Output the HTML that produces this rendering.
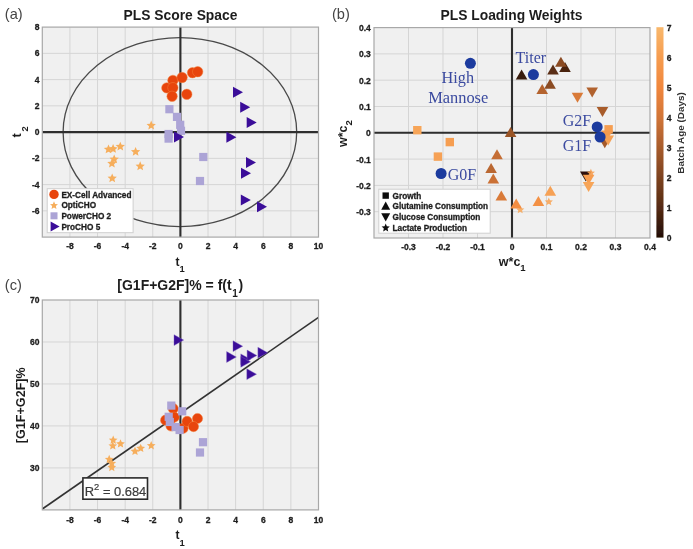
<!DOCTYPE html>
<html lang="en"><head><meta charset="utf-8"><title>PLS figure</title>
<style>html,body{margin:0;padding:0;background:#fff;}svg{display:block;}</style>
</head><body>
<svg width="693" height="549" viewBox="0 0 693 549">
<defs><filter id="soft" x="-2%" y="-2%" width="104%" height="104%"><feGaussianBlur stdDeviation="0.55"/></filter>
<linearGradient id="cop" x1="0" y1="1" x2="0" y2="0">
<stop offset="0" stop-color="#220d05"/>
<stop offset="0.14" stop-color="#552b13"/>
<stop offset="0.29" stop-color="#7e4320"/>
<stop offset="0.43" stop-color="#a85c2c"/>
<stop offset="0.57" stop-color="#d17538"/>
<stop offset="0.71" stop-color="#f0863c"/>
<stop offset="0.86" stop-color="#f69d50"/>
<stop offset="1" stop-color="#f9b86c"/>
</linearGradient></defs>
<rect width="693" height="549" fill="#fff"/>
<g filter="url(#soft)">
<g id="panel-a">
<rect x="42.3" y="27.1" width="276.2" height="210" fill="#f0f0f0"/><path d="M69.92 27.1V237.1M97.54 27.1V237.1M125.16 27.1V237.1M152.78 27.1V237.1M180.4 27.1V237.1M208.02 27.1V237.1M235.64 27.1V237.1M263.26 27.1V237.1M290.88 27.1V237.1M42.3 210.85H318.5M42.3 184.6H318.5M42.3 158.35H318.5M42.3 132.1H318.5M42.3 105.85H318.5M42.3 79.6H318.5M42.3 53.35H318.5" stroke="#d5d5d5" stroke-width="1" fill="none"/>
<ellipse cx="179.9" cy="132.1" rx="116.8" ry="94.5" fill="none" stroke="#4a4a4a" stroke-width="1.3"/>
<path d="M42.3 132.1H318.5M180.4 27.1V237.1" stroke="#2e2e2e" stroke-width="2.1" fill="none"/>
<rect x="42.3" y="27.1" width="276.2" height="210" fill="none" stroke="#a8a8a8" stroke-width="1.2"/>
<circle cx="172.9" cy="80.4" r="5.2" fill="#e8450c" stroke="#f2803c" stroke-width="0.5"/>
<circle cx="166.8" cy="87.9" r="5.2" fill="#e8450c" stroke="#f2803c" stroke-width="0.5"/>
<circle cx="172.9" cy="87.7" r="5.2" fill="#e8450c" stroke="#f2803c" stroke-width="0.5"/>
<circle cx="172.1" cy="96.3" r="5.2" fill="#e8450c" stroke="#f2803c" stroke-width="0.5"/>
<circle cx="182.1" cy="77.5" r="5.2" fill="#e8450c" stroke="#f2803c" stroke-width="0.5"/>
<circle cx="186.8" cy="94.3" r="5.2" fill="#e8450c" stroke="#f2803c" stroke-width="0.5"/>
<circle cx="192.5" cy="72.7" r="5.2" fill="#e8450c" stroke="#f2803c" stroke-width="0.5"/>
<circle cx="197.7" cy="71.7" r="5.2" fill="#e8450c" stroke="#f2803c" stroke-width="0.5"/>
<polygon points="151.2,120.6 152.52,123.68 155.86,123.99 153.34,126.2 154.08,129.46 151.2,127.75 148.32,129.46 149.06,126.2 146.54,123.99 149.88,123.68" fill="#f6ae5c"/>
<polygon points="108.5,144.5 109.82,147.58 113.16,147.89 110.64,150.1 111.38,153.36 108.5,151.65 105.62,153.36 106.36,150.1 103.84,147.89 107.18,147.58" fill="#f6ae5c"/>
<polygon points="113.1,144 114.42,147.08 117.76,147.39 115.24,149.6 115.98,152.86 113.1,151.15 110.22,152.86 110.96,149.6 108.44,147.39 111.78,147.08" fill="#f6ae5c"/>
<polygon points="120.3,141.7 121.62,144.78 124.96,145.09 122.44,147.3 123.18,150.56 120.3,148.85 117.42,150.56 118.16,147.3 115.64,145.09 118.98,144.78" fill="#f6ae5c"/>
<polygon points="135.6,146.9 136.92,149.98 140.26,150.29 137.74,152.5 138.48,155.76 135.6,154.05 132.72,155.76 133.46,152.5 130.94,150.29 134.28,149.98" fill="#f6ae5c"/>
<polygon points="114.2,154.4 115.52,157.48 118.86,157.79 116.34,160 117.08,163.26 114.2,161.55 111.32,163.26 112.06,160 109.54,157.79 112.88,157.48" fill="#f6ae5c"/>
<polygon points="111.9,158.7 113.22,161.78 116.56,162.09 114.04,164.3 114.78,167.56 111.9,165.85 109.02,167.56 109.76,164.3 107.24,162.09 110.58,161.78" fill="#f6ae5c"/>
<polygon points="140.2,161.3 141.52,164.38 144.86,164.69 142.34,166.9 143.08,170.16 140.2,168.45 137.32,170.16 138.06,166.9 135.54,164.69 138.88,164.38" fill="#f6ae5c"/>
<polygon points="112.2,173.4 113.52,176.48 116.86,176.79 114.34,179 115.08,182.26 112.2,180.55 109.32,182.26 110.06,179 107.54,176.79 110.88,176.48" fill="#f6ae5c"/>
<rect x="165.3" y="105.1" width="8.2" height="8.2" fill="#aca4d6"/>
<rect x="172.9" y="112.8" width="8.2" height="8.2" fill="#aca4d6"/>
<rect x="176.1" y="120.7" width="8.2" height="8.2" fill="#aca4d6"/>
<rect x="176.9" y="126.7" width="8.2" height="8.2" fill="#aca4d6"/>
<rect x="164.5" y="129.9" width="8.2" height="8.2" fill="#aca4d6"/>
<rect x="164.5" y="134.5" width="8.2" height="8.2" fill="#aca4d6"/>
<rect x="199.2" y="152.9" width="8.2" height="8.2" fill="#aca4d6"/>
<rect x="195.9" y="176.9" width="8.2" height="8.2" fill="#aca4d6"/>
<polygon points="233,86.8 243,92.3 233,97.8" fill="#3b0f99"/>
<polygon points="240.2,101.7 250.2,107.2 240.2,112.7" fill="#3b0f99"/>
<polygon points="246.7,117.1 256.7,122.6 246.7,128.1" fill="#3b0f99"/>
<polygon points="226.4,131.7 236.4,137.2 226.4,142.7" fill="#3b0f99"/>
<polygon points="246,157 256,162.5 246,168" fill="#3b0f99"/>
<polygon points="241,167.8 251,173.3 241,178.8" fill="#3b0f99"/>
<polygon points="240.8,194.5 250.8,200 240.8,205.5" fill="#3b0f99"/>
<polygon points="257,201.3 267,206.8 257,212.3" fill="#3b0f99"/>
<polygon points="174,131.5 184,137 174,142.5" fill="#3b0f99"/>
<rect x="47.2" y="188.7" width="85.9" height="44" fill="#fff" stroke="#cfcfcf" stroke-width="1"/>
<circle cx="54" cy="194.4" r="4.7" fill="#e8450c"/>
<polygon points="54,201.3 55.14,203.94 57.99,204.2 55.84,206.1 56.47,208.9 54,207.43 51.53,208.9 52.16,206.1 50.01,204.2 52.86,203.94" fill="#f6ae5c"/>
<rect x="50.5" y="212.3" width="7" height="7" fill="#aca4d6"/>
<polygon points="50.6,221.4 59.6,226.4 50.6,231.4" fill="#3b0f99"/>
<text x="61.4" y="197.5" font-family='"Liberation Sans", Arial, Helvetica, sans-serif' font-size="8.22" font-weight="bold" text-anchor="start" fill="#1e1e1e" stroke="#1e1e1e" stroke-width="0.3">EX-Cell Advanced</text>
<text x="61.4" y="208.2" font-family='"Liberation Sans", Arial, Helvetica, sans-serif' font-size="8.22" font-weight="bold" text-anchor="start" fill="#1e1e1e" stroke="#1e1e1e" stroke-width="0.3">OptiCHO</text>
<text x="61.4" y="218.9" font-family='"Liberation Sans", Arial, Helvetica, sans-serif' font-size="8.22" font-weight="bold" text-anchor="start" fill="#1e1e1e" stroke="#1e1e1e" stroke-width="0.3">PowerCHO 2</text>
<text x="61.4" y="229.6" font-family='"Liberation Sans", Arial, Helvetica, sans-serif' font-size="8.22" font-weight="bold" text-anchor="start" fill="#1e1e1e" stroke="#1e1e1e" stroke-width="0.3">ProCHO 5</text>
<text x="69.92" y="249.3" font-family='"Liberation Sans", Arial, Helvetica, sans-serif' font-size="8.5" font-weight="bold" text-anchor="middle" fill="#1e1e1e" stroke="#1e1e1e" stroke-width="0.3">-8</text>
<text x="97.54" y="249.3" font-family='"Liberation Sans", Arial, Helvetica, sans-serif' font-size="8.5" font-weight="bold" text-anchor="middle" fill="#1e1e1e" stroke="#1e1e1e" stroke-width="0.3">-6</text>
<text x="125.16" y="249.3" font-family='"Liberation Sans", Arial, Helvetica, sans-serif' font-size="8.5" font-weight="bold" text-anchor="middle" fill="#1e1e1e" stroke="#1e1e1e" stroke-width="0.3">-4</text>
<text x="152.78" y="249.3" font-family='"Liberation Sans", Arial, Helvetica, sans-serif' font-size="8.5" font-weight="bold" text-anchor="middle" fill="#1e1e1e" stroke="#1e1e1e" stroke-width="0.3">-2</text>
<text x="180.4" y="249.3" font-family='"Liberation Sans", Arial, Helvetica, sans-serif' font-size="8.5" font-weight="bold" text-anchor="middle" fill="#1e1e1e" stroke="#1e1e1e" stroke-width="0.3">0</text>
<text x="208.02" y="249.3" font-family='"Liberation Sans", Arial, Helvetica, sans-serif' font-size="8.5" font-weight="bold" text-anchor="middle" fill="#1e1e1e" stroke="#1e1e1e" stroke-width="0.3">2</text>
<text x="235.64" y="249.3" font-family='"Liberation Sans", Arial, Helvetica, sans-serif' font-size="8.5" font-weight="bold" text-anchor="middle" fill="#1e1e1e" stroke="#1e1e1e" stroke-width="0.3">4</text>
<text x="263.26" y="249.3" font-family='"Liberation Sans", Arial, Helvetica, sans-serif' font-size="8.5" font-weight="bold" text-anchor="middle" fill="#1e1e1e" stroke="#1e1e1e" stroke-width="0.3">6</text>
<text x="290.88" y="249.3" font-family='"Liberation Sans", Arial, Helvetica, sans-serif' font-size="8.5" font-weight="bold" text-anchor="middle" fill="#1e1e1e" stroke="#1e1e1e" stroke-width="0.3">8</text>
<text x="318.5" y="249.3" font-family='"Liberation Sans", Arial, Helvetica, sans-serif' font-size="8.5" font-weight="bold" text-anchor="middle" fill="#1e1e1e" stroke="#1e1e1e" stroke-width="0.3">10</text>
<text x="39.6" y="213.85" font-family='"Liberation Sans", Arial, Helvetica, sans-serif' font-size="8.5" font-weight="bold" text-anchor="end" fill="#1e1e1e" stroke="#1e1e1e" stroke-width="0.3">-6</text>
<text x="39.6" y="187.6" font-family='"Liberation Sans", Arial, Helvetica, sans-serif' font-size="8.5" font-weight="bold" text-anchor="end" fill="#1e1e1e" stroke="#1e1e1e" stroke-width="0.3">-4</text>
<text x="39.6" y="161.35" font-family='"Liberation Sans", Arial, Helvetica, sans-serif' font-size="8.5" font-weight="bold" text-anchor="end" fill="#1e1e1e" stroke="#1e1e1e" stroke-width="0.3">-2</text>
<text x="39.6" y="135.1" font-family='"Liberation Sans", Arial, Helvetica, sans-serif' font-size="8.5" font-weight="bold" text-anchor="end" fill="#1e1e1e" stroke="#1e1e1e" stroke-width="0.3">0</text>
<text x="39.6" y="108.85" font-family='"Liberation Sans", Arial, Helvetica, sans-serif' font-size="8.5" font-weight="bold" text-anchor="end" fill="#1e1e1e" stroke="#1e1e1e" stroke-width="0.3">2</text>
<text x="39.6" y="82.6" font-family='"Liberation Sans", Arial, Helvetica, sans-serif' font-size="8.5" font-weight="bold" text-anchor="end" fill="#1e1e1e" stroke="#1e1e1e" stroke-width="0.3">4</text>
<text x="39.6" y="56.35" font-family='"Liberation Sans", Arial, Helvetica, sans-serif' font-size="8.5" font-weight="bold" text-anchor="end" fill="#1e1e1e" stroke="#1e1e1e" stroke-width="0.3">6</text>
<text x="39.6" y="30.1" font-family='"Liberation Sans", Arial, Helvetica, sans-serif' font-size="8.5" font-weight="bold" text-anchor="end" fill="#1e1e1e" stroke="#1e1e1e" stroke-width="0.3">8</text>
<text x="180.5" y="20.2" font-family='"Liberation Sans", Arial, Helvetica, sans-serif' font-size="13.85" font-weight="bold" text-anchor="middle" fill="#1e1e1e">PLS Score Space</text>
<text x="4.8" y="18.5" font-family='"Liberation Sans", Arial, Helvetica, sans-serif' font-size="14.6" font-weight="normal" text-anchor="start" fill="#444">(a)</text>
<text x="175.6" y="265.6" font-family='"Liberation Sans", Arial, Helvetica, sans-serif' font-size="12" font-weight="bold" fill="#1e1e1e">t<tspan font-size="9.4" dy="6.6">1</tspan></text>
<text transform="translate(21.2,137.6) rotate(-90)" font-family='"Liberation Sans", Arial, Helvetica, sans-serif' font-size="12.5" font-weight="bold" fill="#1e1e1e">t<tspan font-size="9.4" dx="2" dy="6.6">2</tspan></text>
</g>
<g id="panel-b">
<rect x="374" y="27.6" width="276" height="210.4" fill="#f0f0f0"/><path d="M408.5 27.6V238M443 27.6V238M477.5 27.6V238M512 27.6V238M546.5 27.6V238M581 27.6V238M615.5 27.6V238M374 211.7H650M374 185.4H650M374 159.1H650M374 132.8H650M374 106.5H650M374 80.2H650M374 53.9H650" stroke="#d5d5d5" stroke-width="1" fill="none"/>
<path d="M374 132.8H650M512 27.6V238" stroke="#2e2e2e" stroke-width="2.1" fill="none"/>
<rect x="374" y="27.6" width="276" height="210.4" fill="none" stroke="#a8a8a8" stroke-width="1.2"/>
<polygon points="580,171.6 591.6,171.6 585.8,181.6" fill="#291107"/>
<rect x="413.1" y="126" width="8.4" height="8.4" fill="#f7a558"/>
<rect x="445.6" y="137.9" width="8.4" height="8.4" fill="#f69e51"/>
<rect x="433.7" y="152.4" width="8.4" height="8.4" fill="#f6a154"/>
<rect x="604.4" y="125.1" width="8.4" height="8.4" fill="#f69e51"/>
<polygon points="520.2,205.5 521.36,208.2 524.29,208.47 522.08,210.41 522.73,213.28 520.2,211.78 517.67,213.28 518.32,210.41 516.11,208.47 519.04,208.2" fill="#f7a95c" opacity="0.9"/>
<polygon points="548.8,197.5 549.96,200.2 552.89,200.47 550.68,202.41 551.33,205.28 548.8,203.78 546.27,205.28 546.92,202.41 544.71,200.47 547.64,200.2" fill="#f7a558" opacity="0.9"/>
<polygon points="590.9,168.7 592.06,171.4 594.99,171.67 592.78,173.61 593.43,176.48 590.9,174.98 588.37,176.48 589.02,173.61 586.81,171.67 589.74,171.4" fill="#f69e51" opacity="0.9"/>
<polygon points="559.2,72 565,62 570.8,72" fill="#492410"/>
<polygon points="515.8,79.4 521.6,69.4 527.4,79.4" fill="#371a0b"/>
<polygon points="547.2,74.5 553,64.5 558.8,74.5" fill="#5a2e15"/>
<polygon points="555.1,66.8 560.9,56.8 566.7,66.8" fill="#8b4b24"/>
<polygon points="544.3,88.7 550.1,78.7 555.9,88.7" fill="#8b4b24"/>
<polygon points="536.4,94 542.2,84 548,94" fill="#b4632f"/>
<polygon points="504.8,136.9 510.6,126.9 516.4,136.9" fill="#9a5428"/>
<polygon points="491.2,159.3 497,149.3 502.8,159.3" fill="#c56e35"/>
<polygon points="485.3,173.1 491.1,163.1 496.9,173.1" fill="#ba6731"/>
<polygon points="487.5,183.4 493.3,173.4 499.1,183.4" fill="#cb7136"/>
<polygon points="495.5,200.4 501.3,190.4 507.1,200.4" fill="#d97a39"/>
<polygon points="510.4,208.4 516.2,198.4 522,208.4" fill="#f28d42"/>
<polygon points="532.6,206.1 538.4,196.1 544.2,206.1" fill="#f39145"/>
<polygon points="544.5,195.7 550.3,185.7 556.1,195.7" fill="#f6a154"/>
<polygon points="571.7,92.8 583.3,92.8 577.5,102.8" fill="#d97a39"/>
<polygon points="586.4,87.4 598,87.4 592.2,97.4" fill="#b1622f"/>
<polygon points="596.7,107 608.3,107 602.5,117" fill="#a85c2c"/>
<polygon points="599,138.3 610.6,138.3 604.8,148.3" fill="#a55a2b"/>
<polygon points="601.2,130.5 612.8,130.5 607,140.5" fill="#f59a4e"/>
<polygon points="602.4,135.5 614,135.5 608.2,145.5" fill="#f6a154"/>
<polygon points="582.8,174.8 594.4,174.8 588.6,184.8" fill="#f69c4f"/>
<polygon points="582.8,182 594.4,182 588.6,192" fill="#f7a558"/>
<circle cx="533.4" cy="74.6" r="5.5" fill="#1c3a9e"/>
<circle cx="597.2" cy="126.9" r="5.5" fill="#1c3a9e"/>
<circle cx="600.1" cy="137" r="5.5" fill="#1c3a9e"/>
<circle cx="441.1" cy="173.5" r="5.5" fill="#1c3a9e"/>
<circle cx="470.4" cy="63.3" r="5.5" fill="#1c3a9e"/>
<text x="515.6" y="63.1" font-family='"Liberation Serif", "Times New Roman", serif' font-size="16" font-weight="normal" text-anchor="start" fill="#3a4a9f">Titer</text>
<text x="562.8" y="126.3" font-family='"Liberation Serif", "Times New Roman", serif' font-size="16" font-weight="normal" text-anchor="start" fill="#3a4a9f">G2F</text>
<text x="562.8" y="151.4" font-family='"Liberation Serif", "Times New Roman", serif' font-size="16" font-weight="normal" text-anchor="start" fill="#3a4a9f">G1F</text>
<text x="447.8" y="180" font-family='"Liberation Serif", "Times New Roman", serif' font-size="16" font-weight="normal" text-anchor="start" fill="#3a4a9f">G0F</text>
<text x="457.8" y="83.2" font-family='"Liberation Serif", "Times New Roman", serif' font-size="16.2" font-weight="normal" text-anchor="middle" fill="#3a4a9f">High</text>
<text x="458.2" y="102.8" font-family='"Liberation Serif", "Times New Roman", serif' font-size="16.4" font-weight="normal" text-anchor="middle" fill="#3a4a9f">Mannose</text>
<rect x="378.8" y="189.2" width="111.4" height="44" fill="#fff" stroke="#cfcfcf" stroke-width="1"/>
<rect x="382.5" y="192.4" width="6.4" height="6.4" fill="#111"/>
<polygon points="381.2,209.8 385.7,201.6 390.2,209.8" fill="#111"/>
<polygon points="381.2,213.2 390.2,213.2 385.7,221.4" fill="#111"/>
<polygon points="385.7,223.6 386.86,226.3 389.79,226.57 387.58,228.51 388.23,231.38 385.7,229.88 383.17,231.38 383.82,228.51 381.61,226.57 384.54,226.3" fill="#111"/>
<text x="392.6" y="198.6" font-family='"Liberation Sans", Arial, Helvetica, sans-serif' font-size="8.22" font-weight="bold" text-anchor="start" fill="#1e1e1e" stroke="#1e1e1e" stroke-width="0.3">Growth</text>
<text x="392.6" y="209.3" font-family='"Liberation Sans", Arial, Helvetica, sans-serif' font-size="8.22" font-weight="bold" text-anchor="start" fill="#1e1e1e" stroke="#1e1e1e" stroke-width="0.3">Glutamine Consumption</text>
<text x="392.6" y="220" font-family='"Liberation Sans", Arial, Helvetica, sans-serif' font-size="8.22" font-weight="bold" text-anchor="start" fill="#1e1e1e" stroke="#1e1e1e" stroke-width="0.3">Glucose Consumption</text>
<text x="392.6" y="230.7" font-family='"Liberation Sans", Arial, Helvetica, sans-serif' font-size="8.22" font-weight="bold" text-anchor="start" fill="#1e1e1e" stroke="#1e1e1e" stroke-width="0.3">Lactate Production</text>
<text x="408.5" y="250.1" font-family='"Liberation Sans", Arial, Helvetica, sans-serif' font-size="8.5" font-weight="bold" text-anchor="middle" fill="#1e1e1e" stroke="#1e1e1e" stroke-width="0.3">-0.3</text>
<text x="443" y="250.1" font-family='"Liberation Sans", Arial, Helvetica, sans-serif' font-size="8.5" font-weight="bold" text-anchor="middle" fill="#1e1e1e" stroke="#1e1e1e" stroke-width="0.3">-0.2</text>
<text x="477.5" y="250.1" font-family='"Liberation Sans", Arial, Helvetica, sans-serif' font-size="8.5" font-weight="bold" text-anchor="middle" fill="#1e1e1e" stroke="#1e1e1e" stroke-width="0.3">-0.1</text>
<text x="512" y="250.1" font-family='"Liberation Sans", Arial, Helvetica, sans-serif' font-size="8.5" font-weight="bold" text-anchor="middle" fill="#1e1e1e" stroke="#1e1e1e" stroke-width="0.3">0</text>
<text x="546.5" y="250.1" font-family='"Liberation Sans", Arial, Helvetica, sans-serif' font-size="8.5" font-weight="bold" text-anchor="middle" fill="#1e1e1e" stroke="#1e1e1e" stroke-width="0.3">0.1</text>
<text x="581" y="250.1" font-family='"Liberation Sans", Arial, Helvetica, sans-serif' font-size="8.5" font-weight="bold" text-anchor="middle" fill="#1e1e1e" stroke="#1e1e1e" stroke-width="0.3">0.2</text>
<text x="615.5" y="250.1" font-family='"Liberation Sans", Arial, Helvetica, sans-serif' font-size="8.5" font-weight="bold" text-anchor="middle" fill="#1e1e1e" stroke="#1e1e1e" stroke-width="0.3">0.3</text>
<text x="650" y="250.1" font-family='"Liberation Sans", Arial, Helvetica, sans-serif' font-size="8.5" font-weight="bold" text-anchor="middle" fill="#1e1e1e" stroke="#1e1e1e" stroke-width="0.3">0.4</text>
<text x="370.8" y="215.2" font-family='"Liberation Sans", Arial, Helvetica, sans-serif' font-size="8.5" font-weight="bold" text-anchor="end" fill="#1e1e1e" stroke="#1e1e1e" stroke-width="0.3">-0.3</text>
<text x="370.8" y="188.9" font-family='"Liberation Sans", Arial, Helvetica, sans-serif' font-size="8.5" font-weight="bold" text-anchor="end" fill="#1e1e1e" stroke="#1e1e1e" stroke-width="0.3">-0.2</text>
<text x="370.8" y="162.6" font-family='"Liberation Sans", Arial, Helvetica, sans-serif' font-size="8.5" font-weight="bold" text-anchor="end" fill="#1e1e1e" stroke="#1e1e1e" stroke-width="0.3">-0.1</text>
<text x="370.8" y="136.3" font-family='"Liberation Sans", Arial, Helvetica, sans-serif' font-size="8.5" font-weight="bold" text-anchor="end" fill="#1e1e1e" stroke="#1e1e1e" stroke-width="0.3">0</text>
<text x="370.8" y="110" font-family='"Liberation Sans", Arial, Helvetica, sans-serif' font-size="8.5" font-weight="bold" text-anchor="end" fill="#1e1e1e" stroke="#1e1e1e" stroke-width="0.3">0.1</text>
<text x="370.8" y="83.7" font-family='"Liberation Sans", Arial, Helvetica, sans-serif' font-size="8.5" font-weight="bold" text-anchor="end" fill="#1e1e1e" stroke="#1e1e1e" stroke-width="0.3">0.2</text>
<text x="370.8" y="57.4" font-family='"Liberation Sans", Arial, Helvetica, sans-serif' font-size="8.5" font-weight="bold" text-anchor="end" fill="#1e1e1e" stroke="#1e1e1e" stroke-width="0.3">0.3</text>
<text x="370.8" y="31.1" font-family='"Liberation Sans", Arial, Helvetica, sans-serif' font-size="8.5" font-weight="bold" text-anchor="end" fill="#1e1e1e" stroke="#1e1e1e" stroke-width="0.3">0.4</text>
<text x="511.5" y="20.2" font-family='"Liberation Sans", Arial, Helvetica, sans-serif' font-size="13.85" font-weight="bold" text-anchor="middle" fill="#1e1e1e">PLS Loading Weights</text>
<text x="332" y="18.5" font-family='"Liberation Sans", Arial, Helvetica, sans-serif' font-size="14.6" font-weight="normal" text-anchor="start" fill="#444">(b)</text>
<text x="498.8" y="265.6" font-family='"Liberation Sans", Arial, Helvetica, sans-serif' font-size="12.5" font-weight="bold" fill="#1e1e1e">w*c<tspan font-size="9.6" dy="5.8">1</tspan></text>
<text transform="translate(346.9,147.0) rotate(-90)" font-family='"Liberation Sans", Arial, Helvetica, sans-serif' font-size="12.5" font-weight="bold" fill="#1e1e1e">w*c<tspan font-size="9.6" dy="4.6">2</tspan></text>
<rect x="656.4" y="27.2" width="7.1" height="210.4" fill="url(#cop)"/>
<text x="666.7" y="240.89" font-family='"Liberation Sans", Arial, Helvetica, sans-serif' font-size="8.5" font-weight="bold" text-anchor="start" fill="#1e1e1e" stroke="#1e1e1e" stroke-width="0.3">0</text>
<text x="666.7" y="210.97" font-family='"Liberation Sans", Arial, Helvetica, sans-serif' font-size="8.5" font-weight="bold" text-anchor="start" fill="#1e1e1e" stroke="#1e1e1e" stroke-width="0.3">1</text>
<text x="666.7" y="181.05" font-family='"Liberation Sans", Arial, Helvetica, sans-serif' font-size="8.5" font-weight="bold" text-anchor="start" fill="#1e1e1e" stroke="#1e1e1e" stroke-width="0.3">2</text>
<text x="666.7" y="151.13" font-family='"Liberation Sans", Arial, Helvetica, sans-serif' font-size="8.5" font-weight="bold" text-anchor="start" fill="#1e1e1e" stroke="#1e1e1e" stroke-width="0.3">3</text>
<text x="666.7" y="121.21" font-family='"Liberation Sans", Arial, Helvetica, sans-serif' font-size="8.5" font-weight="bold" text-anchor="start" fill="#1e1e1e" stroke="#1e1e1e" stroke-width="0.3">4</text>
<text x="666.7" y="91.29" font-family='"Liberation Sans", Arial, Helvetica, sans-serif' font-size="8.5" font-weight="bold" text-anchor="start" fill="#1e1e1e" stroke="#1e1e1e" stroke-width="0.3">5</text>
<text x="666.7" y="61.37" font-family='"Liberation Sans", Arial, Helvetica, sans-serif' font-size="8.5" font-weight="bold" text-anchor="start" fill="#1e1e1e" stroke="#1e1e1e" stroke-width="0.3">6</text>
<text x="666.7" y="31.45" font-family='"Liberation Sans", Arial, Helvetica, sans-serif' font-size="8.5" font-weight="bold" text-anchor="start" fill="#1e1e1e" stroke="#1e1e1e" stroke-width="0.3">7</text>
<text transform="translate(683.6,133) rotate(-90)" font-family='"Liberation Sans", Arial, Helvetica, sans-serif' font-size="9.9" font-weight="bold" text-anchor="middle" fill="#333">Batch Age (Days)</text>
</g>
<g id="panel-c">
<rect x="42.3" y="300" width="276.2" height="209.9" fill="#f0f0f0"/><path d="M69.92 300V509.9M97.54 300V509.9M125.16 300V509.9M152.78 300V509.9M180.4 300V509.9M208.02 300V509.9M235.64 300V509.9M263.26 300V509.9M290.88 300V509.9M42.3 467.92H318.5M42.3 425.94H318.5M42.3 383.96H318.5M42.3 341.98H318.5" stroke="#d5d5d5" stroke-width="1" fill="none"/>
<path d="M180.4 300V509.9" stroke="#2e2e2e" stroke-width="2.1" fill="none"/>
<path d="M42.3 509.0L318.5 317.4" stroke="#333" stroke-width="1.6" fill="none"/>
<rect x="42.3" y="300" width="276.2" height="209.9" fill="none" stroke="#a8a8a8" stroke-width="1.2"/>
<circle cx="165.6" cy="420.2" r="5.1" fill="#e8450c" stroke="#f2803c" stroke-width="0.5"/>
<circle cx="173.2" cy="408.6" r="5.1" fill="#e8450c" stroke="#f2803c" stroke-width="0.5"/>
<circle cx="174.2" cy="417.2" r="5.1" fill="#e8450c" stroke="#f2803c" stroke-width="0.5"/>
<circle cx="171" cy="426" r="5.1" fill="#e8450c" stroke="#f2803c" stroke-width="0.5"/>
<circle cx="183" cy="428.4" r="5.1" fill="#e8450c" stroke="#f2803c" stroke-width="0.5"/>
<circle cx="187.1" cy="421.4" r="5.1" fill="#e8450c" stroke="#f2803c" stroke-width="0.5"/>
<circle cx="197.5" cy="418.5" r="5.1" fill="#e8450c" stroke="#f2803c" stroke-width="0.5"/>
<circle cx="193.5" cy="426.6" r="5.1" fill="#e8450c" stroke="#f2803c" stroke-width="0.5"/>
<polygon points="113.2,435.6 114.44,438.49 117.57,438.78 115.21,440.85 115.9,443.92 113.2,442.32 110.5,443.92 111.19,440.85 108.83,438.78 111.96,438.49" fill="#f6ae5c"/>
<polygon points="112.8,441.3 114.04,444.19 117.17,444.48 114.81,446.55 115.5,449.62 112.8,448.02 110.1,449.62 110.79,446.55 108.43,444.48 111.56,444.19" fill="#f6ae5c"/>
<polygon points="120.5,439.2 121.74,442.09 124.87,442.38 122.51,444.45 123.2,447.52 120.5,445.92 117.8,447.52 118.49,444.45 116.13,442.38 119.26,442.09" fill="#f6ae5c"/>
<polygon points="135,446.7 136.24,449.59 139.37,449.88 137.01,451.95 137.7,455.02 135,453.42 132.3,455.02 132.99,451.95 130.63,449.88 133.76,449.59" fill="#f6ae5c"/>
<polygon points="140.7,443.7 141.94,446.59 145.07,446.88 142.71,448.95 143.4,452.02 140.7,450.42 138,452.02 138.69,448.95 136.33,446.88 139.46,446.59" fill="#f6ae5c"/>
<polygon points="151.2,441.1 152.44,443.99 155.57,444.28 153.21,446.35 153.9,449.42 151.2,447.82 148.5,449.42 149.19,446.35 146.83,444.28 149.96,443.99" fill="#f6ae5c"/>
<polygon points="109.2,454.8 110.44,457.69 113.57,457.98 111.21,460.05 111.9,463.12 109.2,461.52 106.5,463.12 107.19,460.05 104.83,457.98 107.96,457.69" fill="#f6ae5c"/>
<polygon points="111.8,458.8 113.04,461.69 116.17,461.98 113.81,464.05 114.5,467.12 111.8,465.52 109.1,467.12 109.79,464.05 107.43,461.98 110.56,461.69" fill="#f6ae5c"/>
<polygon points="111.8,462.9 113.04,465.79 116.17,466.08 113.81,468.15 114.5,471.22 111.8,469.62 109.1,471.22 109.79,468.15 107.43,466.08 110.56,465.79" fill="#f6ae5c"/>
<rect x="167.2" y="401.5" width="8.2" height="8.2" fill="#aca4d6"/>
<rect x="178.1" y="407.2" width="8.2" height="8.2" fill="#aca4d6"/>
<rect x="164.6" y="412.7" width="8.2" height="8.2" fill="#aca4d6"/>
<rect x="165.7" y="417.9" width="8.2" height="8.2" fill="#aca4d6"/>
<rect x="171.5" y="423" width="8.2" height="8.2" fill="#aca4d6"/>
<rect x="175.5" y="425.9" width="8.2" height="8.2" fill="#aca4d6"/>
<rect x="198.9" y="438.1" width="8.2" height="8.2" fill="#aca4d6"/>
<rect x="195.9" y="448.4" width="8.2" height="8.2" fill="#aca4d6"/>
<polygon points="174,334.7 183.7,340.1 174,345.5" fill="#3b0f99" stroke="#7a5cc0" stroke-width="0.4"/>
<polygon points="233,340.8 242.7,346.2 233,351.6" fill="#3b0f99" stroke="#7a5cc0" stroke-width="0.4"/>
<polygon points="226.6,351.6 236.3,357 226.6,362.4" fill="#3b0f99" stroke="#7a5cc0" stroke-width="0.4"/>
<polygon points="240.8,353.9 250.5,359.3 240.8,364.7" fill="#3b0f99" stroke="#7a5cc0" stroke-width="0.4"/>
<polygon points="240.8,356.4 250.5,361.8 240.8,367.2" fill="#3b0f99" stroke="#7a5cc0" stroke-width="0.4"/>
<polygon points="247.1,350.1 256.8,355.5 247.1,360.9" fill="#3b0f99" stroke="#7a5cc0" stroke-width="0.4"/>
<polygon points="257.9,347.3 267.6,352.7 257.9,358.1" fill="#3b0f99" stroke="#7a5cc0" stroke-width="0.4"/>
<polygon points="246.8,368.8 256.5,374.2 246.8,379.6" fill="#3b0f99" stroke="#7a5cc0" stroke-width="0.4"/>
<rect x="82.9" y="477.9" width="64.6" height="21.3" fill="#fff" stroke="#2a2a2a" stroke-width="1.6"/>
<text x="84.8" y="495.5" font-family='"Liberation Sans", Arial, Helvetica, sans-serif' font-size="12.9" fill="#3c3c3c" stroke="#3c3c3c" stroke-width="0.2">R<tspan font-size="9.4" dy="-5.4">2</tspan><tspan dy="5.4"> = 0.684</tspan></text>
<text x="69.92" y="523.1" font-family='"Liberation Sans", Arial, Helvetica, sans-serif' font-size="8.5" font-weight="bold" text-anchor="middle" fill="#1e1e1e" stroke="#1e1e1e" stroke-width="0.3">-8</text>
<text x="97.54" y="523.1" font-family='"Liberation Sans", Arial, Helvetica, sans-serif' font-size="8.5" font-weight="bold" text-anchor="middle" fill="#1e1e1e" stroke="#1e1e1e" stroke-width="0.3">-6</text>
<text x="125.16" y="523.1" font-family='"Liberation Sans", Arial, Helvetica, sans-serif' font-size="8.5" font-weight="bold" text-anchor="middle" fill="#1e1e1e" stroke="#1e1e1e" stroke-width="0.3">-4</text>
<text x="152.78" y="523.1" font-family='"Liberation Sans", Arial, Helvetica, sans-serif' font-size="8.5" font-weight="bold" text-anchor="middle" fill="#1e1e1e" stroke="#1e1e1e" stroke-width="0.3">-2</text>
<text x="180.4" y="523.1" font-family='"Liberation Sans", Arial, Helvetica, sans-serif' font-size="8.5" font-weight="bold" text-anchor="middle" fill="#1e1e1e" stroke="#1e1e1e" stroke-width="0.3">0</text>
<text x="208.02" y="523.1" font-family='"Liberation Sans", Arial, Helvetica, sans-serif' font-size="8.5" font-weight="bold" text-anchor="middle" fill="#1e1e1e" stroke="#1e1e1e" stroke-width="0.3">2</text>
<text x="235.64" y="523.1" font-family='"Liberation Sans", Arial, Helvetica, sans-serif' font-size="8.5" font-weight="bold" text-anchor="middle" fill="#1e1e1e" stroke="#1e1e1e" stroke-width="0.3">4</text>
<text x="263.26" y="523.1" font-family='"Liberation Sans", Arial, Helvetica, sans-serif' font-size="8.5" font-weight="bold" text-anchor="middle" fill="#1e1e1e" stroke="#1e1e1e" stroke-width="0.3">6</text>
<text x="290.88" y="523.1" font-family='"Liberation Sans", Arial, Helvetica, sans-serif' font-size="8.5" font-weight="bold" text-anchor="middle" fill="#1e1e1e" stroke="#1e1e1e" stroke-width="0.3">8</text>
<text x="318.5" y="523.1" font-family='"Liberation Sans", Arial, Helvetica, sans-serif' font-size="8.5" font-weight="bold" text-anchor="middle" fill="#1e1e1e" stroke="#1e1e1e" stroke-width="0.3">10</text>
<text x="39.4" y="470.92" font-family='"Liberation Sans", Arial, Helvetica, sans-serif' font-size="8.5" font-weight="bold" text-anchor="end" fill="#1e1e1e" stroke="#1e1e1e" stroke-width="0.3">30</text>
<text x="39.4" y="428.94" font-family='"Liberation Sans", Arial, Helvetica, sans-serif' font-size="8.5" font-weight="bold" text-anchor="end" fill="#1e1e1e" stroke="#1e1e1e" stroke-width="0.3">40</text>
<text x="39.4" y="386.96" font-family='"Liberation Sans", Arial, Helvetica, sans-serif' font-size="8.5" font-weight="bold" text-anchor="end" fill="#1e1e1e" stroke="#1e1e1e" stroke-width="0.3">50</text>
<text x="39.4" y="344.98" font-family='"Liberation Sans", Arial, Helvetica, sans-serif' font-size="8.5" font-weight="bold" text-anchor="end" fill="#1e1e1e" stroke="#1e1e1e" stroke-width="0.3">60</text>
<text x="39.4" y="303" font-family='"Liberation Sans", Arial, Helvetica, sans-serif' font-size="8.5" font-weight="bold" text-anchor="end" fill="#1e1e1e" stroke="#1e1e1e" stroke-width="0.3">70</text>
<text x="180.2" y="290.3" font-family='"Liberation Sans", Arial, Helvetica, sans-serif' font-size="14" font-weight="bold" text-anchor="middle" fill="#1e1e1e">[G1F+G2F]% = f(t<tspan font-size="10" dx="0.6" dy="6.6">1</tspan><tspan dx="0.6" dy="-6.6">)</tspan></text>
<text x="4.8" y="289.7" font-family='"Liberation Sans", Arial, Helvetica, sans-serif' font-size="14.6" font-weight="normal" text-anchor="start" fill="#444">(c)</text>
<text x="175.6" y="539.2" font-family='"Liberation Sans", Arial, Helvetica, sans-serif' font-size="12" font-weight="bold" fill="#1e1e1e">t<tspan font-size="9.4" dy="6.6">1</tspan></text>
<text transform="translate(25.0,405.2) rotate(-90)" font-family='"Liberation Sans", Arial, Helvetica, sans-serif' font-size="12.6" font-weight="bold" text-anchor="middle" fill="#1e1e1e">[G1F+G2F]%</text>
</g>
</g>
</svg>
</body></html>
